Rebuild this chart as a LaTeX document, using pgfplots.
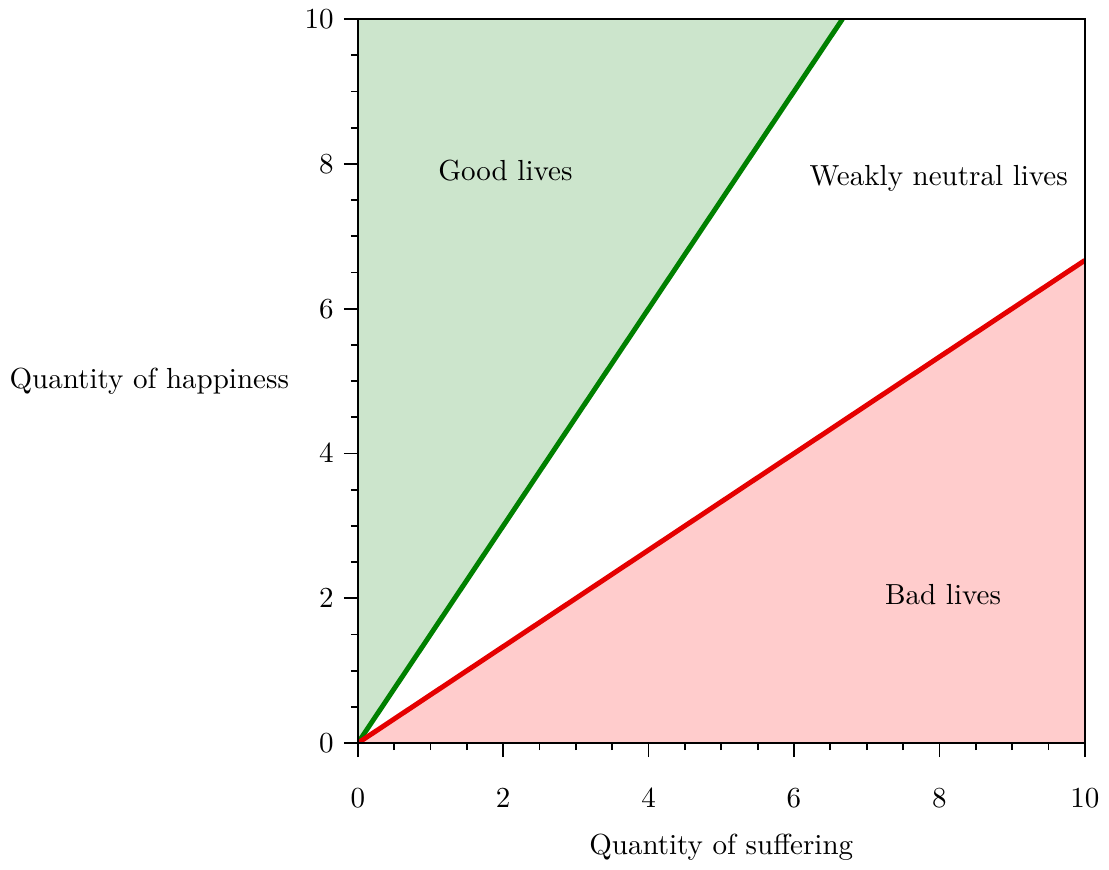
\documentclass[border=0pt]{standalone}
\usepackage{pgfplots}
\pgfplotsset{compat=1.18}

\definecolor{goodline}{rgb}{0,0.5,0}
\definecolor{badline}{rgb}{0.9,0,0}

\begin{document}
\begin{tikzpicture}
\begin{axis}[
    width=250.5pt, height=249.5pt,
    scale only axis,
    xmin=0, xmax=10, ymin=0, ymax=10,
    xtick={0,2,...,10}, ytick={0,2,...,10},
    minor tick num=3,
    tick align=outside,
    xtick pos=left, ytick pos=left,
    major tick length=4.8pt, minor tick length=2.4pt,
    axis line style={line width=0.6pt},
    every tick/.style={line width=0.6pt, black},
    xticklabel style={yshift=-7.5pt},
    xlabel={Quantity of suffering},
    ylabel={Quantity of happiness},
    every axis y label/.style={at={(ticklabel cs:0.5)}, anchor=east, xshift=1.5pt},
    every axis x label/.style={at={(ticklabel cs:0.5)}, anchor=north, yshift=-2pt},
    axis on top,
]
% shaded regions
\addplot[fill=goodline!20, draw=none] coordinates {(0,0) (6.667,10) (0,10)} -- cycle;
\addplot[fill=red!20, draw=none] coordinates {(0,0) (10,6.667) (10,0)} -- cycle;
% boundary lines
\addplot[goodline, line width=1.7pt] coordinates {(0,0) (6.667,10)};
\addplot[badline, line width=1.7pt] coordinates {(0,0) (10,6.667)};

\node at (axis cs:2.03,7.91) {Good lives};
\node at (axis cs:7.99,7.8) {Weakly neutral lives};
\node at (axis cs:8.05,2.05) {Bad lives};
\end{axis}
\end{tikzpicture}
\end{document}
